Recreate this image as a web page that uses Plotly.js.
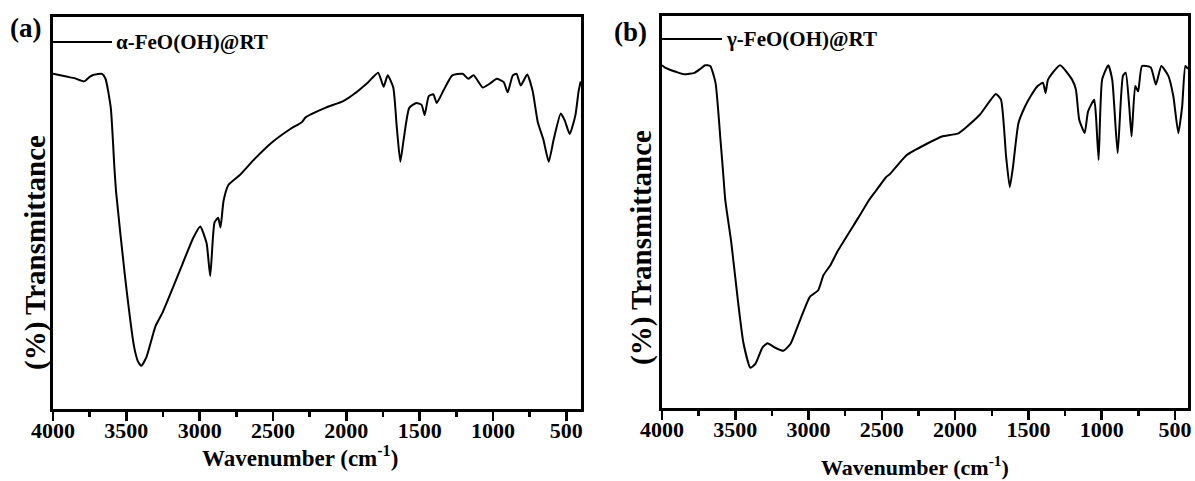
<!DOCTYPE html>
<html>
<head>
<meta charset="utf-8">
<script src="https://cdn.plot.ly/plotly-3.0.1.min.js"></script>
<style>html,body{margin:0;padding:0;background:#fff;}#chart{width:1195px;height:481px;}</style>
</head>
<body>
<div id="chart"></div>
<script>
// ---- Data ----
const nameA = "\u03b1-FeO(OH)@RT";
const nameB = "\u03b3-FeO(OH)@RT";

const waveA = [4000, 3950, 3900, 3850, 3788, 3750, 3727, 3700, 3666, 3642, 3606, 3581, 3569, 3508, 3447, 3420, 3398, 3363, 3301, 3254, 3118, 3045, 2996, 2953, 2928, 2899, 2874, 2858, 2837, 2803, 2728, 2633, 2510, 2387, 2302, 2278, 2144, 2021, 1950, 1851, 1783, 1746, 1718, 1680, 1657, 1632, 1609, 1571, 1522, 1487, 1466, 1438, 1407, 1384, 1339, 1278, 1207, 1169, 1132, 1070, 1022, 974, 927, 900, 865, 839, 811, 767, 730, 695, 657, 620, 586, 538, 511, 477, 438, 416, 402];
const transA = [85.0, 84.6, 84.2, 83.8, 83.0, 84.2, 84.7, 84.9, 85.0, 83.7, 76.0, 60.0, 53.5, 31.1, 12.9, 9.0, 7.9, 10.2, 18.4, 21.9, 34.7, 41.6, 44.7, 40.3, 31.6, 45.7, 47.0, 44.4, 51.5, 55.7, 58.2, 62.2, 66.8, 70.3, 72.3, 73.5, 76.0, 77.8, 79.6, 82.8, 85.3, 81.6, 84.6, 81.4, 71.4, 61.8, 67.7, 76.0, 77.3, 76.8, 74.1, 79.1, 79.6, 77.3, 80.5, 84.6, 85.0, 83.7, 84.6, 81.4, 82.4, 83.7, 82.8, 80.1, 84.6, 85.0, 81.9, 84.8, 80.5, 72.3, 67.7, 61.8, 67.7, 74.5, 72.7, 69.1, 74.1, 80.5, 83.0];

const waveB = [4000, 3979, 3900, 3848, 3779, 3740, 3706, 3671, 3635, 3601, 3582, 3568, 3528, 3481, 3445, 3397, 3362, 3314, 3280, 3232, 3172, 3124, 3064, 2992, 2934, 2898, 2851, 2803, 2661, 2589, 2541, 2470, 2446, 2330, 2186, 2090, 1974, 1830, 1722, 1687, 1652, 1627, 1605, 1568, 1523, 1485, 1437, 1401, 1383, 1366, 1284, 1202, 1176, 1153, 1116, 1093, 1051, 1038, 1021, 997, 955, 928, 891, 855, 836, 812, 796, 771, 751, 725, 665, 630, 593, 545, 511, 477, 451, 429, 411];
const transB = [87.0, 86.4, 85.2, 84.6, 85.0, 86.0, 87.0, 86.8, 82.4, 67.3, 58.2, 51.3, 40.4, 24.5, 13.8, 7.1, 8.2, 12.5, 13.6, 12.5, 11.6, 13.4, 19.1, 25.8, 27.6, 31.6, 34.2, 37.8, 46.7, 51.3, 53.8, 57.5, 58.2, 63.3, 66.4, 68.2, 69.1, 74.0, 79.4, 77.9, 62.8, 54.8, 60.2, 71.7, 76.1, 78.8, 81.5, 82.4, 79.7, 83.2, 87.0, 83.2, 80.6, 72.6, 69.1, 74.8, 77.9, 73.0, 62.0, 83.2, 87.0, 83.2, 63.8, 84.2, 85.0, 76.1, 68.2, 81.5, 80.1, 86.8, 86.4, 81.9, 86.8, 84.2, 78.8, 69.1, 76.1, 86.8, 86.0];

const xTickVals = [4000, 3500, 3000, 2500, 2000, 1500, 1000, 500];
const xTickText = ["4000", "3500", "3000", "2500", "2000", "1500", "1000", "500"];
const xMinorVals = [3750, 3250, 2750, 2250, 1750, 1250, 750];
const panelLabels = ["(a)", "(b)"];
const xTitle = "Wavenumber (cm<sup>-1</sup>)";
const yTitle = "(%) Transmittance";

// ---- Layout helpers ----
const W = 1195, H = 481;
const px = v => v / W;
const py = v => (H - v) / H;
const FONT = "Liberation Serif";

function xAxis(domain, right, anchor) {
  return {
    domain: domain, anchor: anchor,
    range: [4000, right], autorange: false,
    tickvals: xTickVals, ticktext: xTickText,
    ticks: "outside", ticklen: 9, tickwidth: 2.5, tickcolor: "#000",
    minor: {ticks: "outside", ticklen: 5, tickwidth: 2.5, tickcolor: "#000", tickvals: xMinorVals, showgrid: false},
    showline: true, linewidth: 3, linecolor: "#000", mirror: true,
    showgrid: false, zeroline: false,
    ticklabelstandoff: -9,
    tickfont: {family: FONT, size: 22, color: "#000", weight: "bold"}
  };
}
function yAxis(domain, anchor) {
  return {
    domain: domain, anchor: anchor,
    range: [-3.5, 100], autorange: false,
    showticklabels: false, ticks: "",
    showline: true, linewidth: 3, linecolor: "#000", mirror: true,
    showgrid: false, zeroline: false
  };
}

const traces = [
  {x: waveA, y: transA, xaxis: "x", yaxis: "y", type: "scatter", mode: "lines",
   name: nameA, showlegend: false, line: {color: "#000", width: 2, shape: "spline", smoothing: 0.5}},
  {x: waveB, y: transB, xaxis: "x2", yaxis: "y2", type: "scatter", mode: "lines",
   name: nameB, showlegend: false, line: {color: "#000", width: 2, shape: "spline", smoothing: 0.5}}
];

const tf = (size) => ({family: FONT, size: size, color: "#000", weight: "bold"});

const layout = {
  width: W, height: H,
  margin: {l: 0, r: 0, t: 0, b: 0},
  paper_bgcolor: "#fff", plot_bgcolor: "#fff",
  showlegend: false,
  font: {family: FONT, color: "#000"},
  xaxis: xAxis([px(53), px(581)], 400, "y"),
  yaxis: yAxis([py(409), py(17)], "x"),
  xaxis2: xAxis([px(662), px(1188)], 411, "y2"),
  yaxis2: yAxis([py(408), py(16)], "x2"),
  shapes: [
    {type: "line", xref: "paper", yref: "paper", x0: px(53), x1: px(112), y0: py(42), y1: py(42), line: {color: "#000", width: 2}},
    {type: "line", xref: "paper", yref: "paper", x0: px(662), x1: px(722), y0: py(39), y1: py(39), line: {color: "#000", width: 2}}
  ],
  annotations: [
    {text: panelLabels[0], xref: "paper", yref: "paper", x: px(26), y: py(28), xanchor: "center", yanchor: "middle", showarrow: false, font: tf(27)},
    {text: panelLabels[1], xref: "paper", yref: "paper", x: px(631), y: py(32), xanchor: "center", yanchor: "middle", showarrow: false, font: tf(27)},
    {text: nameA, xref: "paper", yref: "paper", x: px(114), y: py(42), xanchor: "left", yanchor: "middle", showarrow: false, font: tf(21)},
    {text: nameB, xref: "paper", yref: "paper", x: px(724), y: py(39), xanchor: "left", yanchor: "middle", showarrow: false, font: tf(21)},
    {text: yTitle, xref: "paper", yref: "paper", x: px(35), y: py(253), xanchor: "center", yanchor: "middle", textangle: -90, showarrow: false, font: tf(29)},
    {text: yTitle, xref: "paper", yref: "paper", x: px(641), y: py(248), xanchor: "center", yanchor: "middle", textangle: -90, showarrow: false, font: tf(29)},
    {text: xTitle, xref: "paper", yref: "paper", x: px(300), y: py(456), xanchor: "center", yanchor: "middle", showarrow: false, font: tf(23)},
    {text: xTitle, xref: "paper", yref: "paper", x: px(915), y: py(466), xanchor: "center", yanchor: "middle", showarrow: false, font: tf(22)}
  ]
};

Plotly.newPlot("chart", traces, layout, {displayModeBar: false, staticPlot: true});
</script>
</body>
</html>
